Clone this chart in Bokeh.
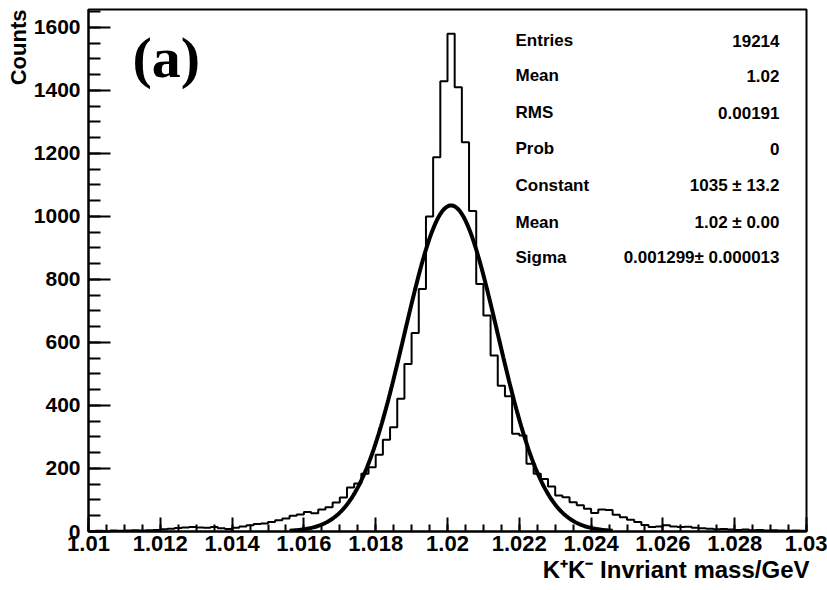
import numpy as np
from bokeh.plotting import figure
from bokeh.models import Range1d, SingleIntervalTicker, CustomJSTickFormatter, Label, Title
from bokeh.embed import file_html
from bokeh.resources import INLINE

# ---------------- data ----------------
bin_lo = 1.010
bin_width = 0.0002
counts = [
    1, 2, 1, 3, 2, 3, 4, 3, 4, 5,
    7, 9, 11, 13, 14, 13, 12, 14, 10, 8,
    12, 16, 20, 24, 25, 30, 36, 41, 50, 54,
    62, 58, 70, 77, 92, 108, 140, 152, 183, 204,
    244, 291, 331, 421, 532, 630, 770, 1000, 1188, 1429,
    1580, 1410, 1236, 1017, 786, 686, 559, 463, 429, 310,
    305, 215, 183, 167, 143, 114, 109, 93, 83, 72,
    59, 70, 68, 53, 45, 37, 30, 21, 14, 16,
    20, 16, 14, 15, 12, 10, 9, 7, 8, 6,
    5, 6, 4, 5, 3, 4, 3, 2, 3, 2,
]

fit_constant = 1035.0
fit_mean = 1.0201
fit_sigma = 0.001299
fit_lo, fit_hi = 1.0156, 1.0246

stat_names = ["Entries", "Mean", "RMS", "Prob", "Constant", "Mean", "Sigma"]
stat_values = ["19214", "1.02", "0.00191", "0", "1035 \u00b1 13.2", "1.02 \u00b1 0.00",
               "0.001299\u00b1 0.000013"]

x_label = "K\u207aK\u207b Invriant mass/GeV"
y_label = "Counts"
panel_tag = "(a)"

# ---------------- layout ----------------
W, H = 827, 590
FL, FR, FT, FB = 88, 806, 9, 531
XMIN, XMAX = 1.01, 1.03
YMAX = 1657

def dx(px):
    return XMIN + (px - FL) / (FR - FL) * (XMAX - XMIN)

def dy(py):
    return YMAX * (FB - py) / (FB - FT)

p = figure(width=W, height=H, output_backend="svg", toolbar_location=None,
           x_range=Range1d(XMIN, XMAX), y_range=Range1d(0, YMAX),
           min_border_left=FL, min_border_right=W - FR,
           min_border_top=FT, min_border_bottom=H - FB)
p.background_fill_color = "white"
p.border_fill_color = "white"
p.grid.visible = False
p.outline_line_color = "black"
p.outline_line_width = 2

FONT = "Liberation Sans"

# x axis
xa = p.xaxis[0]
xa.ticker = SingleIntervalTicker(interval=0.002, num_minor_ticks=4)
xa.formatter = CustomJSTickFormatter(code="return tick.toFixed(3).replace(/0$/, '');")
xa.axis_line_color = "black"
xa.axis_line_width = 2
xa.major_tick_in = 14
xa.major_tick_out = 0
xa.minor_tick_in = 7
xa.minor_tick_out = 0
xa.major_tick_line_width = 2
xa.minor_tick_line_width = 2
xa.major_tick_line_color = "black"
xa.minor_tick_line_color = "black"
xa.major_label_text_font = FONT
xa.major_label_text_font_style = "bold"
xa.major_label_text_font_size = "22px"
xa.major_label_text_color = "black"
xa.major_label_standoff = 4

# y axis
ya = p.yaxis[0]
ya.ticker = SingleIntervalTicker(interval=200, num_minor_ticks=4)
ya.axis_line_color = "black"
ya.axis_line_width = 2
ya.major_tick_in = 22
ya.major_tick_out = 0
ya.minor_tick_in = 12
ya.minor_tick_out = 0
ya.major_tick_line_width = 2
ya.minor_tick_line_width = 2
ya.major_tick_line_color = "black"
ya.minor_tick_line_color = "black"
ya.major_label_text_font = FONT
ya.major_label_text_font_style = "bold"
ya.major_label_text_font_size = "21px"
ya.major_label_text_color = "black"
ya.major_label_standoff = 8

# axis titles, aligned at the far ends of the axes
p.add_layout(Title(text=x_label, align="right", offset=-3, standoff=0,
                   text_font=FONT, text_font_style="bold", text_font_size="24px",
                   text_color="black"), "below")
p.add_layout(Title(text=y_label, align="right", offset=0, standoff=0,
                   text_font=FONT, text_font_style="bold", text_font_size="22px",
                   text_color="black"), "left")

# histogram outline
edges = bin_lo + bin_width * np.arange(len(counts) + 1)
p.step(x=edges, y=list(counts) + [counts[-1]], mode="after",
       line_color="black", line_width=2)

# gaussian fit curve (from the fit parameters)
xf = np.linspace(fit_lo, fit_hi, 400)
yf = fit_constant * np.exp(-0.5 * ((xf - fit_mean) / fit_sigma) ** 2)
p.line(xf, yf, line_color="black", line_width=4)

# stats box texts
row_y = [40, 75, 112, 148, 185, 222, 257]
for name, val, ry in zip(stat_names, stat_values, row_y):
    p.add_layout(Label(x=dx(515), y=dy(ry), text=name, text_font=FONT,
                       text_font_style="bold", text_font_size="17px",
                       text_align="left", text_baseline="middle", text_color="black"))
    p.add_layout(Label(x=dx(779), y=dy(ry), text=val, text_font=FONT,
                       text_font_style="bold", text_font_size="17px",
                       text_align="right", text_baseline="middle", text_color="black"))

# panel tag
p.add_layout(Label(x=dx(132), y=dy(57), text=panel_tag, text_font="Liberation Serif",
                   text_font_style="bold", text_font_size="58px",
                   text_align="left", text_baseline="middle", text_color="black"))

open("out.html", "w").write(file_html(p, INLINE))
